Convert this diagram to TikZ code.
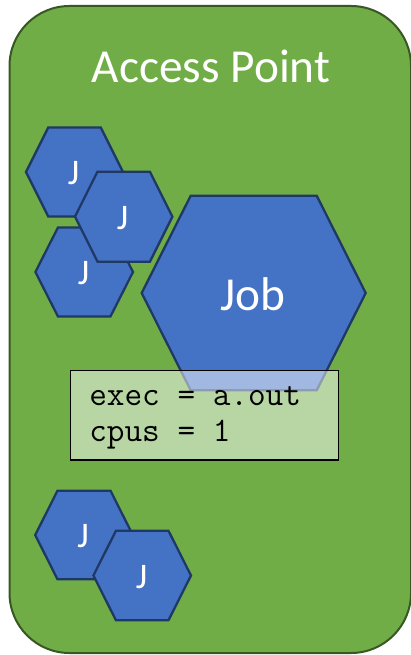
\documentclass[tikz,border=0pt]{standalone}
\usepackage{fontspec}
\setmainfont{Carlito}
\definecolor{apgreen}{HTML}{70AD47}
\definecolor{apborder}{HTML}{385723}
\definecolor{hexblue}{HTML}{4472C4}
\definecolor{hexborder}{HTML}{1F3864}
\begin{document}
\begin{tikzpicture}[x=0.75pt,y=-0.75pt,
  apbox/.style={fill=apgreen,draw=apborder,line width=1.5pt,rounded corners=45pt},
  hexshape/.style={fill=hexblue,draw=hexborder,line width=1.7pt,line join=miter},
  jlabel/.style={text=white,font=\fontsize{27}{30}\selectfont,inner sep=0pt},
  biglabel/.style={text=white,font=\fontsize{35.5}{40}\selectfont,inner sep=0pt},
  codebox/.style={draw=black,line width=1.1pt,fill=white,fill opacity=0.5,text opacity=1,inner sep=0pt,minimum width=201pt,minimum height=67pt,anchor=north west},
  codetext/.style={font=\ttfamily\fontsize{25.7}{30}\selectfont,inner sep=0pt,anchor=base west}]
\useasboundingbox (0,0) rectangle (410,655);
\path[apbox] (9.5,6) rectangle (411,653);
\node[biglabel] (title) at (211,66) {Access Point};
% top group
\draw[hexshape,shift={(74.5,172)}] (-48.5,0) -- (-26.2,-44.6) -- (26.2,-44.6) -- (48.5,0) -- (26.2,44.6) -- (-26.2,44.6) -- cycle;
\node[jlabel] (j1) at (73.5,173.5) {J};
\draw[hexshape,shift={(84.2,272)}] (-48.8,0) -- (-26.2,-44.6) -- (26.2,-44.6) -- (48.8,0) -- (26.2,44.6) -- (-26.2,44.6) -- cycle;
\node[jlabel] (j3) at (83.5,273.5) {J};
\draw[hexshape,shift={(123.7,216.7)}] (-48.7,0) -- (-26.2,-45) -- (26.2,-45) -- (48.7,0) -- (26.2,45) -- (-26.2,45) -- cycle;
\node[jlabel] (j2) at (122.5,218) {J};
% job
\draw[hexshape,shift={(253.7,293)}] (-112,0) -- (-63,-97.3) -- (63,-97.3) -- (112,0) -- (63,97.3) -- (-63,97.3) -- cycle;
\node[biglabel] (job) at (252.5,294) {Job};
% code box
\node[codebox] (code) at (70,370) {};
\node[codetext] (l1) at (89,405) {exec = a.out};
\node[codetext] (l2) at (89,441) {cpus = 1};
% bottom group
\draw[hexshape,shift={(84,535)}] (-48.8,0) -- (-26.5,-44.3) -- (26.5,-44.3) -- (48.8,0) -- (26.5,44.3) -- (-26.5,44.3) -- cycle;
\node[jlabel] (j4) at (83,536.5) {J};
\draw[hexshape,shift={(142.2,575.5)}] (-48.8,0) -- (-26.3,-44.7) -- (26.3,-44.7) -- (48.8,0) -- (26.3,44.7) -- (-26.3,44.7) -- cycle;
\node[jlabel] (j5) at (141.5,577) {J};
\end{tikzpicture}
\end{document}
